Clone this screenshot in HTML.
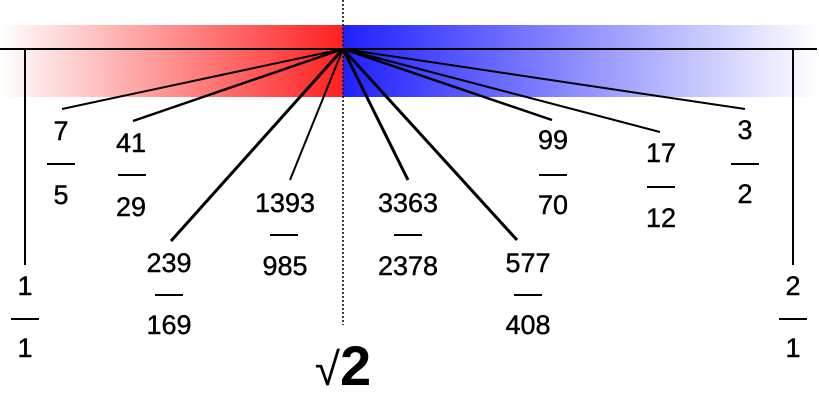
<!DOCTYPE html>
<html><head><meta charset="utf-8"><style>
html,body{margin:0;padding:0;background:#fff;width:819px;height:410px;overflow:hidden}
text{font-family:"Liberation Sans",Arial,sans-serif;font-size:27px;fill:#000;text-anchor:middle}
</style></head><body>
<svg width="819" height="410" viewBox="0 0 819 410" xmlns="http://www.w3.org/2000/svg">
<defs>
<linearGradient id="r" x1="0" x2="1" y1="0" y2="0"><stop offset="0" stop-color="#fff"/><stop offset="1" stop-color="#ff2020"/></linearGradient>
<linearGradient id="b" x1="0" x2="1" y1="0" y2="0"><stop offset="0" stop-color="#2020ff"/><stop offset="1" stop-color="#fff"/></linearGradient>
</defs>
<rect x="0" y="25" width="343" height="72" fill="url(#r)"/>
<rect x="343" y="25" width="476" height="72" fill="url(#b)"/>
<line x1="343" y1="0" x2="343" y2="325" stroke="#000" stroke-width="1.5" stroke-dasharray="2,2"/>
<line x1="0" y1="49" x2="817" y2="49" stroke="#000" stroke-width="2"/>
<line x1="25" y1="49" x2="25" y2="265" stroke="#000" stroke-width="2"/>
<line x1="793" y1="49" x2="793" y2="265" stroke="#000" stroke-width="2"/>
<g stroke="#000" stroke-width="2">
<line x1="343" y1="49" x2="62" y2="109"/>
<line x1="343" y1="49" x2="133" y2="121" stroke-width="2.5"/>
<line x1="343" y1="49" x2="171" y2="241" stroke-width="3"/>
<line x1="343" y1="49" x2="290" y2="180"/>
<line x1="343" y1="49" x2="408" y2="180" stroke-width="3"/>
<line x1="343" y1="49" x2="517" y2="240" stroke-width="3"/>
<line x1="343" y1="49" x2="552" y2="120" stroke-width="2.5"/>
<line x1="343" y1="49" x2="660" y2="132"/>
<line x1="343" y1="49" x2="745" y2="109"/>
</g>
<g stroke="#000" stroke-width="2">
<line x1="47" y1="164" x2="75" y2="164"/>
<line x1="118" y1="175" x2="146" y2="175"/>
<line x1="155" y1="295" x2="183" y2="295"/>
<line x1="270" y1="235" x2="298" y2="235"/>
<line x1="394" y1="235" x2="422" y2="235"/>
<line x1="514" y1="295" x2="542" y2="295"/>
<line x1="539" y1="175" x2="567" y2="175"/>
<line x1="647" y1="187" x2="675" y2="187"/>
<line x1="731" y1="164" x2="759" y2="164"/>
<line x1="11" y1="319" x2="39" y2="319"/>
<line x1="779" y1="319" x2="807" y2="319"/>
</g>
<g stroke="#000" stroke-width="0.4">
<text x="61" y="140">7</text><text x="61" y="204">5</text>
<text x="131" y="152">41</text><text x="131" y="216">29</text>
<text x="169" y="272">239</text><text x="169" y="334">169</text>
<text x="285" y="212">1393</text><text x="285" y="275">985</text>
<text x="408" y="212">3363</text><text x="408" y="275">2378</text>
<text x="528" y="272">577</text><text x="528" y="334">408</text>
<text x="553" y="149">99</text><text x="553" y="214">70</text>
<text x="661" y="162">17</text><text x="661" y="227">12</text>
<text x="745" y="139">3</text><text x="745" y="203">2</text>
<text x="25" y="295">1</text><text x="25" y="357">1</text>
<text x="793" y="295">2</text><text x="793" y="357">1</text>
</g>
<text x="343" y="385" style="font-size:46px">√<tspan style="font-size:56px;font-weight:bold">2</tspan></text>
</svg>
</body></html>
